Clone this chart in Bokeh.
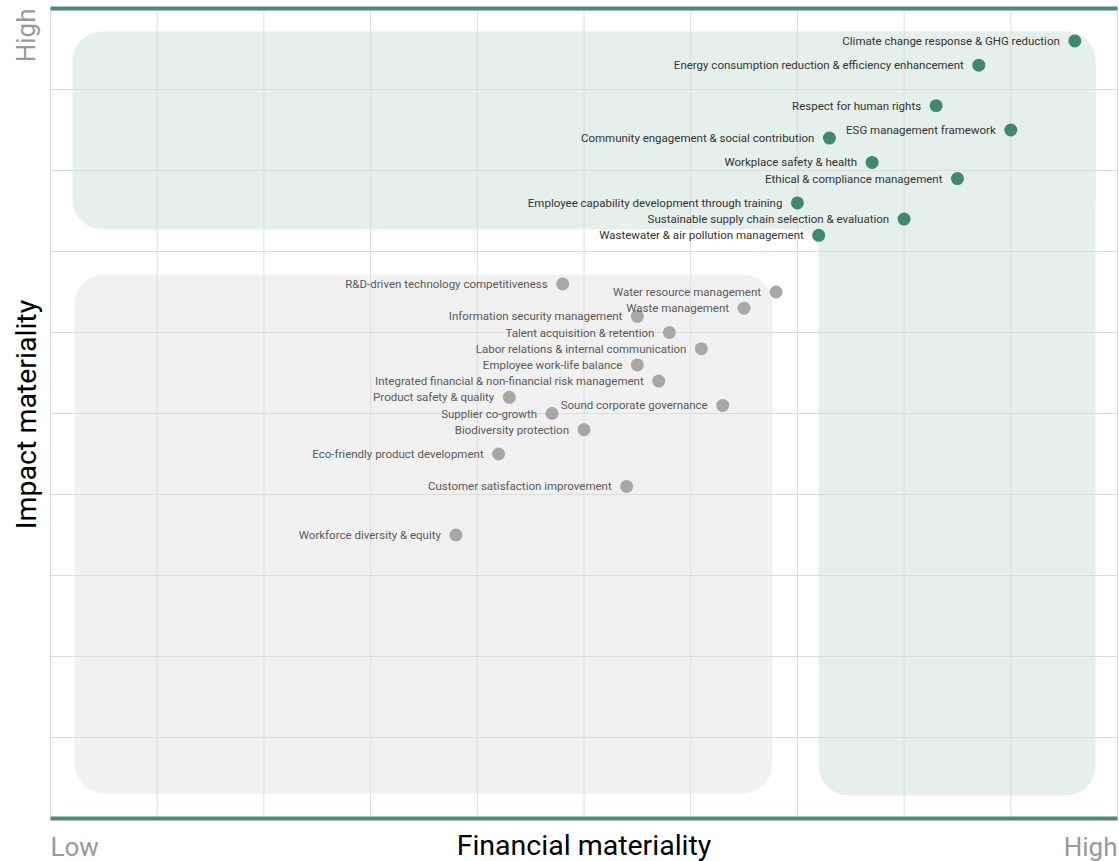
import math
from bokeh.plotting import figure
from bokeh.models import BoxAnnotation, Label, Range1d
from bokeh.core.properties import value
from bokeh.embed import file_html
from bokeh.resources import INLINE

# ---- data ----
high_names = [
    "Climate change response & GHG reduction",
    "Energy consumption reduction & efficiency enhancement",
    "Respect for human rights",
    "ESG management framework",
    "Community engagement & social contribution",
    "Workplace safety & health",
    "Ethical & compliance management",
    "Employee capability development through training",
    "Sustainable supply chain selection & evaluation",
    "Wastewater & air pollution management",
]
high_fin = [9.6, 8.7, 8.3, 9.0, 7.3, 7.7, 8.5, 7.0, 8.0, 7.2]
high_imp = [9.6, 9.3, 8.8, 8.5, 8.4, 8.1, 7.9, 7.6, 7.4, 7.2]

low_names = [
    "R&D-driven technology competitiveness",
    "Water resource management",
    "Waste management",
    "Information security management",
    "Talent acquisition & retention",
    "Labor relations & internal communication",
    "Employee work-life balance",
    "Integrated financial & non-financial risk management",
    "Product safety & quality",
    "Supplier co-growth",
    "Sound corporate governance",
    "Biodiversity protection",
    "Eco-friendly product development",
    "Customer satisfaction improvement",
    "Workforce diversity & equity",
]
low_fin = [4.8, 6.8, 6.5, 5.5, 5.8, 6.1, 5.5, 5.7, 4.3, 4.7, 6.3, 5.0, 4.2, 5.4, 3.8]
low_imp = [6.6, 6.5, 6.3, 6.2, 6.0, 5.8, 5.6, 5.4, 5.2, 5.0, 5.1, 4.8, 4.5, 4.1, 3.5]

grid_ticks = list(range(11))
x_title = "Financial materiality"
y_title = "Impact materiality"
low_text = "Low"
high_text = "High"

# ---- style ----
GREEN = "#3f8a6f"
GRAY = "#aaa6a6"
GREEN_BG = "#e5efeb"
GRAY_BG = "#f1f1f1"
LINE_GREEN = "#4a8b75"
FONT = "Roboto"

W, H = 1119, 861
ML, MR, MT, MB = 50, 2, 8, 43
fw, fh = W - ML - MR, H - MT - MB
sx = fw / 10.0  # px per data unit (x)
sy = fh / 10.0  # px per data unit (y)

def px2x(px):
    return (px - ML) / sx

def px2y(py):
    return (MT + fh - py) / sy

# frame covers the whole canvas; the 0..10 chart area sits inside it
p = figure(width=W, height=H,
           x_range=Range1d(px2x(0), px2x(W)), y_range=Range1d(px2y(H), px2y(0)),
           output_backend="svg", toolbar_location=None, min_border=0)
p.axis.visible = False
p.grid.visible = False
p.outline_line_color = None
p.background_fill_color = "white"
p.border_fill_color = "white"

# background zones
R = 30
band = BoxAnnotation(left=px2x(72), right=px2x(1095), top=px2y(31), bottom=px2y(229),
                     fill_color=GREEN_BG, fill_alpha=1, line_color=None, border_radius=R, level="image")
col = BoxAnnotation(left=px2x(818), right=px2x(1095), top=px2y(31), bottom=px2y(795),
                    fill_color=GREEN_BG, fill_alpha=1, line_color=None, border_radius=R, level="image")
gray = BoxAnnotation(left=px2x(74), right=px2x(772), top=px2y(274), bottom=px2y(793),
                     fill_color=GRAY_BG, fill_alpha=1, line_color=None, border_radius=R, level="image")
for b in (band, col, gray):
    p.add_layout(b)

# concave fillet where the green band meets the green column
FR = 22
cx, cy = 818 - FR, 229 + FR
fx = [px2x(cx), px2x(818)]
fy = [px2y(229), px2y(229)]
for k in range(0, 31):
    a = math.pi / 2 * k / 30
    fx.append(px2x(cx + FR * math.cos(a)))
    fy.append(px2y(cy - FR * math.sin(a)))
p.patch(fx, fy, fill_color=GREEN_BG, line_color=None, level="image")

# grid lines limited to the chart area
p.segment(x0=grid_ticks, y0=[0] * 11, x1=grid_ticks, y1=[10] * 11,
          line_color="#dcdcdc", line_width=1, level="underlay")
p.segment(x0=[0] * 11, y0=grid_ticks, x1=[10] * 11, y1=grid_ticks,
          line_color="#dcdcdc", line_width=1, level="underlay")

# top / bottom green rules
p.segment(x0=[0, 0], y0=[0, 10], x1=[10, 10], y1=[0, 10], line_color=LINE_GREEN, line_width=4)

# points
p.scatter(low_fin, low_imp, size=13, fill_color=GRAY, line_color=None)
p.scatter(high_fin, high_imp, size=13, fill_color=GREEN, line_color=None)

p.text(low_fin, low_imp, text=low_names, x_offset=-15, text_align="right", text_baseline="middle",
       text_font=value(FONT), text_font_size="11.5px", text_color="#595959")
p.text(high_fin, high_imp, text=high_names, x_offset=-15, text_align="right", text_baseline="middle",
       text_font=value(FONT), text_font_size="11.5px", text_color="#333333")

# axis texts
p.add_layout(Label(x=5, y=px2y(845), text=x_title, text_align="center", text_baseline="middle",
                   text_font=FONT, text_font_size="28.5px", text_color="#000000"))
p.add_layout(Label(x=0, y=px2y(846), text=low_text, text_align="left", text_baseline="middle",
                   text_font=FONT, text_font_size="26px", text_color="#999999"))
p.add_layout(Label(x=10, y=px2y(846), text=high_text, text_align="right", text_baseline="middle",
                   text_font=FONT, text_font_size="26px", text_color="#999999"))
p.add_layout(Label(x=px2x(26), y=px2y(414), text=y_title, text_align="center", text_baseline="middle",
                   angle=math.pi / 2, text_font=FONT, text_font_size="28.5px", text_color="#000000"))
p.add_layout(Label(x=px2x(25), y=10, text=high_text, text_align="right", text_baseline="middle",
                   angle=math.pi / 2, text_font=FONT, text_font_size="26px", text_color="#999999"))

open("out.html", "w").write(file_html(p, INLINE))
